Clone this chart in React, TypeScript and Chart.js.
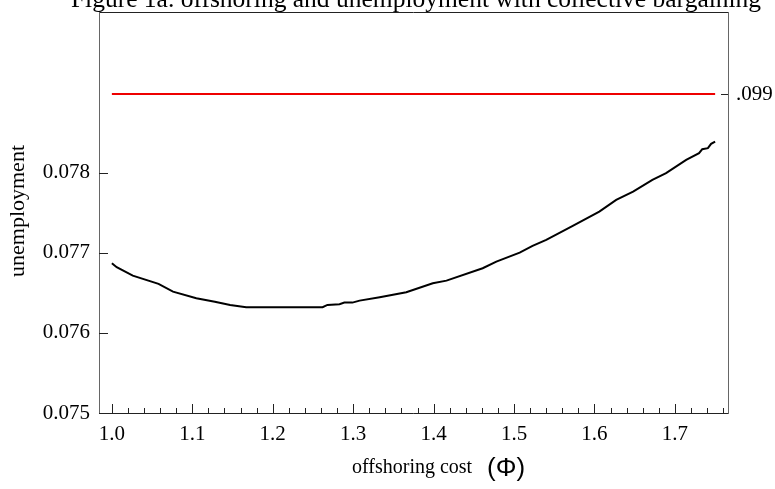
import React, { useEffect, useRef } from "react";
import { Chart, registerables } from "chart.js";

Chart.register(...registerables);

const offshoringCost = [
  1.0, 1.006, 1.026, 1.058, 1.076, 1.105, 1.128, 1.147, 1.167, 1.262, 1.268, 1.283,
  1.289, 1.299, 1.308, 1.333, 1.366, 1.399, 1.416, 1.461, 1.478, 1.507, 1.523, 1.54,
  1.573, 1.606, 1.627, 1.648, 1.672, 1.689, 1.714, 1.73, 1.734, 1.741, 1.745, 1.75,
];
const unemployment = [
  0.076871, 0.076821, 0.076716, 0.076613, 0.076516, 0.076434, 0.076391, 0.07635,
  0.076321, 0.076321, 0.07635, 0.076359, 0.076379, 0.076379, 0.076404, 0.076446,
  0.076509, 0.076621, 0.076654, 0.076809, 0.076891, 0.077004, 0.077088, 0.077163,
  0.077338, 0.077516, 0.077663, 0.077766, 0.077913, 0.077996, 0.078163, 0.078246,
  0.078296, 0.078309, 0.078363, 0.078391,
];
const referenceX = [1.0, 1.75];
const referenceY = [0.099, 0.099];

const xTicks = [1.0, 1.1, 1.2, 1.3, 1.4, 1.5, 1.6, 1.7];
const yTicks = [0.075, 0.076, 0.077, 0.078];
const y2Ticks = [0.099];

const TITLE = "Figure 1a. offshoring and unemployment with collective bargaining";
const Y_TITLE = "unemployment";
const X_TITLE = "offshoring cost";
const X_SYMBOL = "(\u03A6)";

const SERIF = "'Liberation Serif', 'Times New Roman', serif";
const SANS = "'Liberation Sans', Arial, sans-serif";

const decor = {
  id: "decor",
  afterDraw(chart: any) {
    const { ctx, chartArea } = chart;
    const { left, right, top, bottom } = chartArea;
    const xs = chart.scales.x;
    const ys = chart.scales.y;
    const y2 = chart.scales.y2;
    ctx.save();
    ctx.lineWidth = 1;
    // frame
    ctx.strokeStyle = "#222";
    ctx.beginPath();
    ctx.moveTo(left, top + 0.5);
    ctx.lineTo(right, top + 0.5);
    ctx.moveTo(left, bottom + 0.5);
    ctx.lineTo(right + 0.5, bottom + 0.5);
    ctx.stroke();
    ctx.strokeStyle = "#666";
    ctx.beginPath();
    ctx.moveTo(left + 0.5, top);
    ctx.lineTo(left + 0.5, bottom + 1);
    ctx.moveTo(right + 0.5, top);
    ctx.lineTo(right + 0.5, bottom + 1);
    ctx.stroke();
    // y ticks (inward)
    ctx.strokeStyle = "#222";
    ctx.beginPath();
    for (const v of yTicks) {
      const p = Math.round(ys.getPixelForValue(v)) + 0.5;
      ctx.moveTo(left, p);
      ctx.lineTo(left + 9, p);
    }
    for (const v of y2Ticks) {
      const p = Math.round(y2.getPixelForValue(v)) + 0.5;
      ctx.moveTo(right, p);
      ctx.lineTo(right - 7, p);
    }
    // x major ticks
    for (const v of xTicks) {
      const p = Math.round(xs.getPixelForValue(v)) + 0.5;
      ctx.moveTo(p, bottom);
      ctx.lineTo(p, bottom - 9);
    }
    // x minor ticks every 0.02
    for (let i = 0; ; i++) {
      const v = 1.0 + i * 0.02;
      if (v > xs.max) break;
      if (i % 5 === 0) continue;
      const p = Math.round(xs.getPixelForValue(v)) + 0.5;
      ctx.moveTo(p, bottom);
      ctx.lineTo(p, bottom - 5);
    }
    ctx.stroke();
    // title
    ctx.fillStyle = "#000";
    ctx.font = `25.5px ${SERIF}`;
    ctx.textAlign = "center";
    ctx.textBaseline = "alphabetic";
    ctx.fillText(TITLE, 416, 7);
    // y title
    ctx.save();
    ctx.translate(24, 211);
    ctx.rotate(-Math.PI / 2);
    ctx.font = `22px ${SERIF}`;
    ctx.textAlign = "center";
    ctx.fillText(Y_TITLE, 0, 0);
    ctx.restore();
    // x title
    ctx.font = `20px ${SERIF}`;
    ctx.textAlign = "left";
    ctx.fillText(X_TITLE, 352, 473);
    ctx.font = `26px ${SANS}`;
    ctx.fillText(X_SYMBOL, 487, 476);
    ctx.restore();
  },
};

const noPadV = (w: number) => (s: any) => {
  s.width = w;
  s.paddingTop = 0;
  s.paddingBottom = 0;
};

export default function App() {
  const ref = useRef<HTMLCanvasElement | null>(null);
  useEffect(() => {
    if (!ref.current) return;
    const chart = new Chart(ref.current, {
      type: "line",
      data: {
        datasets: [
          {
            label: "unemployment",
            data: offshoringCost.map((x, i) => ({ x, y: unemployment[i] })),
            borderColor: "#000",
            borderWidth: 2,
            pointRadius: 0,
            tension: 0,
            yAxisID: "y",
          },
          {
            label: "reference",
            data: referenceX.map((x, i) => ({ x, y: referenceY[i] })),
            borderColor: "#ee0000",
            borderWidth: 2,
            pointRadius: 0,
            yAxisID: "y2",
          },
        ],
      },
      options: {
        responsive: false,
        animation: false,
        devicePixelRatio: 1,
        layout: { padding: { top: 12, left: 0, right: 0, bottom: 0 } },
        plugins: { legend: { display: false }, tooltip: { enabled: false }, title: { display: false } },
        scales: {
          x: {
            type: "linear",
            min: 0.984,
            max: 1.766,
            grid: { display: false, drawTicks: false },
            border: { display: false },
            afterBuildTicks: (s: any) => {
              s.ticks = xTicks.map((v) => ({ value: v }));
            },
            afterFit: (s: any) => {
              s.height = 76;
              s.paddingLeft = 0;
              s.paddingRight = 0;
            },
            ticks: {
              padding: 9,
              color: "#000",
              font: { family: SERIF, size: 21 },
              callback: (v: any) => Number(v).toFixed(1),
            },
          },
          y: {
            type: "linear",
            position: "left",
            min: 0.075,
            max: 0.08001,
            grid: { display: false, drawTicks: false },
            border: { display: false },
            afterBuildTicks: (s: any) => {
              s.ticks = yTicks.map((v) => ({ value: v }));
            },
            afterFit: noPadV(99),
            ticks: {
              padding: 9,
              color: "#000",
              font: { family: SERIF, size: 21 },
              callback: (v: any) => Number(v).toFixed(3),
            },
          },
          y2: {
            type: "linear",
            position: "right",
            min: 0.095,
            max: 0.10003,
            grid: { display: false, drawTicks: false },
            border: { display: false },
            afterBuildTicks: (s: any) => {
              s.ticks = y2Ticks.map((v) => ({ value: v }));
            },
            afterFit: noPadV(47),
            ticks: {
              padding: 8,
              color: "#000",
              font: { family: SERIF, size: 21 },
              callback: (v: any) => Number(v).toFixed(3).replace(/^0/, ""),
            },
          },
        },
      },
      plugins: [decor],
    });
    return () => chart.destroy();
  }, []);
  return (
    <div style={{ position: "fixed", left: 0, top: 0, width: 775, height: 489, background: "#fff" }}>
      <canvas ref={ref} width={775} height={489} style={{ display: "block" }} />
    </div>
  );
}
